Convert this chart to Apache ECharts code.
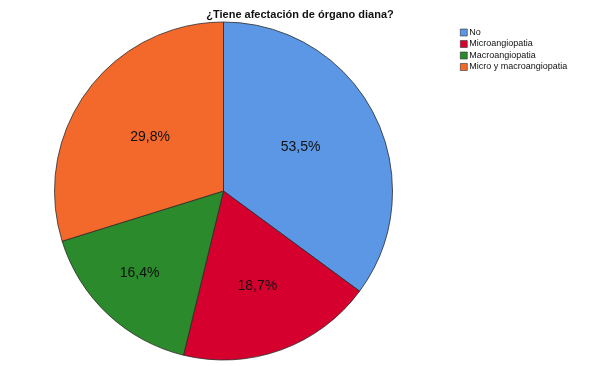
<!DOCTYPE html>
<html>
<head>
<meta charset="utf-8">
<script src="https://cdn.jsdelivr.net/npm/echarts@6/dist/echarts.min.js"></script>
<style>html,body{margin:0;padding:0;background:#fff}#c{width:600px;height:366px}</style>
</head>
<body>
<div id="c"></div>
<script>
// Data
var categories = ["No", "Microangiopatia", "Macroangiopatia", "Micro y macroangiopatia"];
var values = [35.1, 18.7, 16.4, 29.8];           // slice sizes as drawn
var labelTexts = ["53,5%", "18,7%", "16,4%", "29,8%"]; // labels as printed
var titleText = "¿Tiene afectación de órgano diana?";

// Styles
var colors = ["#5b97e4", "#d6002f", "#2b8a2b", "#f3692b"];
var labelOffsets = [[-1, -4], [4, 13], [-24, 18], [-3, -2]];

var chart = echarts.init(document.getElementById('c'), null, {renderer: 'canvas'});
var data = categories.map(function (c, i) {
  return {
    name: c,
    value: values[i],
    itemStyle: {color: colors[i]},
    label: {formatter: labelTexts[i], offset: labelOffsets[i]}
  };
});
chart.setOption({
  animation: false,
  backgroundColor: '#fff',
  title: {
    text: titleText,
    left: 'center',
    top: 4,
    textStyle: {fontFamily: 'Liberation Sans', fontSize: 11, fontWeight: 'bold', color: '#111'}
  },
  legend: {
    orient: 'vertical',
    left: 455,
    top: 23,
    itemWidth: 7,
    itemHeight: 7,
    itemGap: 2.5,
    icon: 'rect',
    selectedMode: false,
    itemStyle: {borderColor: '#333', borderWidth: 0.6},
    textStyle: {fontFamily: 'Liberation Sans', fontSize: 9, color: '#111', padding: [0, 0, 0, -3], lineHeight: 9},
    data: categories
  },
  series: [{
    type: 'pie',
    center: [223.5, 191],
    radius: [0, 169],
    startAngle: 90,
    clockwise: true,
    avoidLabelOverlap: false,
    itemStyle: {borderColor: '#2a2a2a', borderWidth: 0.8},
    label: {
      show: true,
      position: 'inside',
      fontFamily: 'Liberation Sans',
      fontSize: 14,
      color: '#111'
    },
    labelLine: {show: false},
    emphasis: {disabled: true},
    data: data
  }]
});
</script>
</body>
</html>
